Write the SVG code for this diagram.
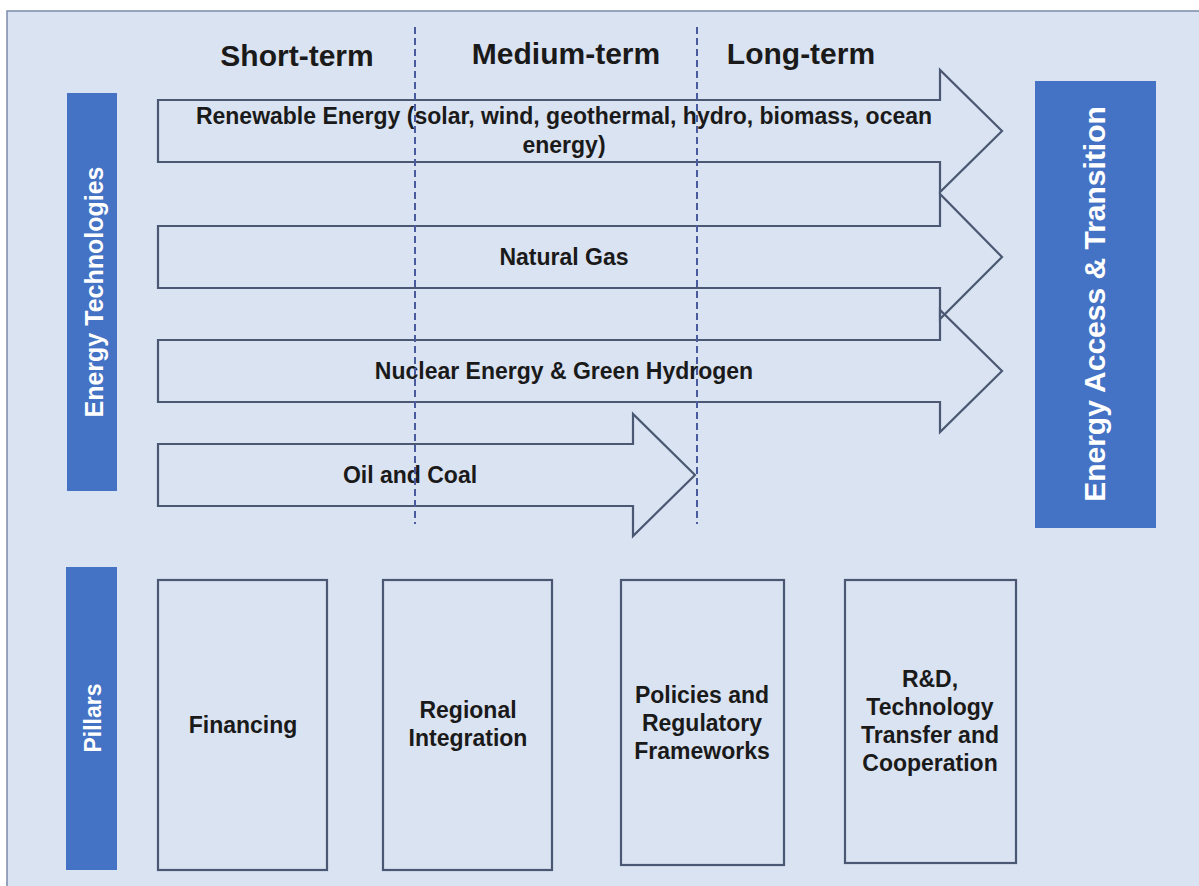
<svg xmlns="http://www.w3.org/2000/svg" width="1199" height="886" viewBox="0 0 1199 886">
<style>
.t{font-family:"Liberation Sans",Arial,sans-serif;font-weight:bold;fill:#1a1a1a;text-anchor:middle}
.w{font-family:"Liberation Sans",Arial,sans-serif;font-weight:bold;fill:#ffffff;text-anchor:middle}
.arrow{fill:none;stroke:#4b5873;stroke-width:2.2;stroke-linejoin:miter}
.box{fill:none;stroke:#4b5873;stroke-width:2.2}
.bar{fill:#4472c4}
.dash{stroke:#4a5a9e;stroke-width:2;stroke-dasharray:7 4;fill:none}
</style>
<rect x="0" y="0" width="1199" height="886" fill="#ffffff"/>
<rect x="7" y="11" width="1200" height="880" fill="#dae3f1" stroke="#7c8bab" stroke-width="1.5"/>

<g id="headers">
<text class="t" x="297" y="66" font-size="30">Short-term</text>
<text class="t" x="566" y="64" font-size="30">Medium-term</text>
<text class="t" x="801" y="64" font-size="30">Long-term</text>
</g>

<g id="energy-technologies">
<rect class="bar" x="67" y="93" width="50" height="398"/>
<text class="w" transform="translate(103,292) rotate(-90)" font-size="25">Energy Technologies</text>
</g>

<g id="energy-access">
<rect class="bar" x="1035" y="81" width="121" height="447"/>
<text class="w" transform="translate(1105,304) rotate(-90)" font-size="30">Energy Access &amp; Transition</text>
</g>

<g id="renewable">
<polygon class="arrow" points="158,100 940,100 940,70 1002,131 940,192 940,162 158,162"/>
<text class="t" x="564" y="124" font-size="23">Renewable Energy (solar, wind, geothermal, hydro, biomass, ocean</text>
<text class="t" x="564" y="153" font-size="23">energy)</text>
</g>

<g id="natural-gas">
<polygon class="arrow" points="158,226 940,226 940,194 1002,257 940,319 940,288 158,288"/>
<text class="t" x="564" y="265" font-size="23">Natural Gas</text>
</g>

<g id="nuclear">
<polygon class="arrow" points="158,340 940,340 940,310 1002,371 940,432 940,402 158,402"/>
<text class="t" x="564" y="379" font-size="23">Nuclear Energy &amp; Green Hydrogen</text>
</g>

<g id="oil-coal">
<polygon class="arrow" points="158,444 633,444 633,414 695,475 633,536 633,506 158,506"/>
<text class="t" x="410" y="483" font-size="23">Oil and Coal</text>
</g>

<g id="connectors">
<line class="dash" x1="415" y1="27" x2="415" y2="524"/>
<line class="dash" x1="697" y1="27" x2="697" y2="524"/>
</g>

<g id="pillars">
<rect class="bar" x="66" y="567" width="51" height="303"/>
<text class="w" transform="translate(101,718) rotate(-90)" font-size="23">Pillars</text>
</g>

<g id="financing">
<rect class="box" x="158" y="580" width="169" height="290"/>
<text class="t" x="243" y="733" font-size="23">Financing</text>
</g>

<g id="regional-integration">
<rect class="box" x="383" y="580" width="169" height="290"/>
<text class="t" x="468" y="718" font-size="23">Regional</text>
<text class="t" x="468" y="746" font-size="23">Integration</text>
</g>

<g id="policies">
<rect class="box" x="621" y="580" width="163" height="285"/>
<text class="t" x="702" y="703" font-size="23">Policies and</text>
<text class="t" x="702" y="731" font-size="23">Regulatory</text>
<text class="t" x="702" y="759" font-size="23">Frameworks</text>
</g>

<g id="rnd">
<rect class="box" x="845" y="580" width="171" height="283"/>
<text class="t" x="930" y="687" font-size="23">R&amp;D,</text>
<text class="t" x="930" y="715" font-size="23">Technology</text>
<text class="t" x="930" y="743" font-size="23">Transfer and</text>
<text class="t" x="930" y="771" font-size="23">Cooperation</text>
</g>
</svg>
